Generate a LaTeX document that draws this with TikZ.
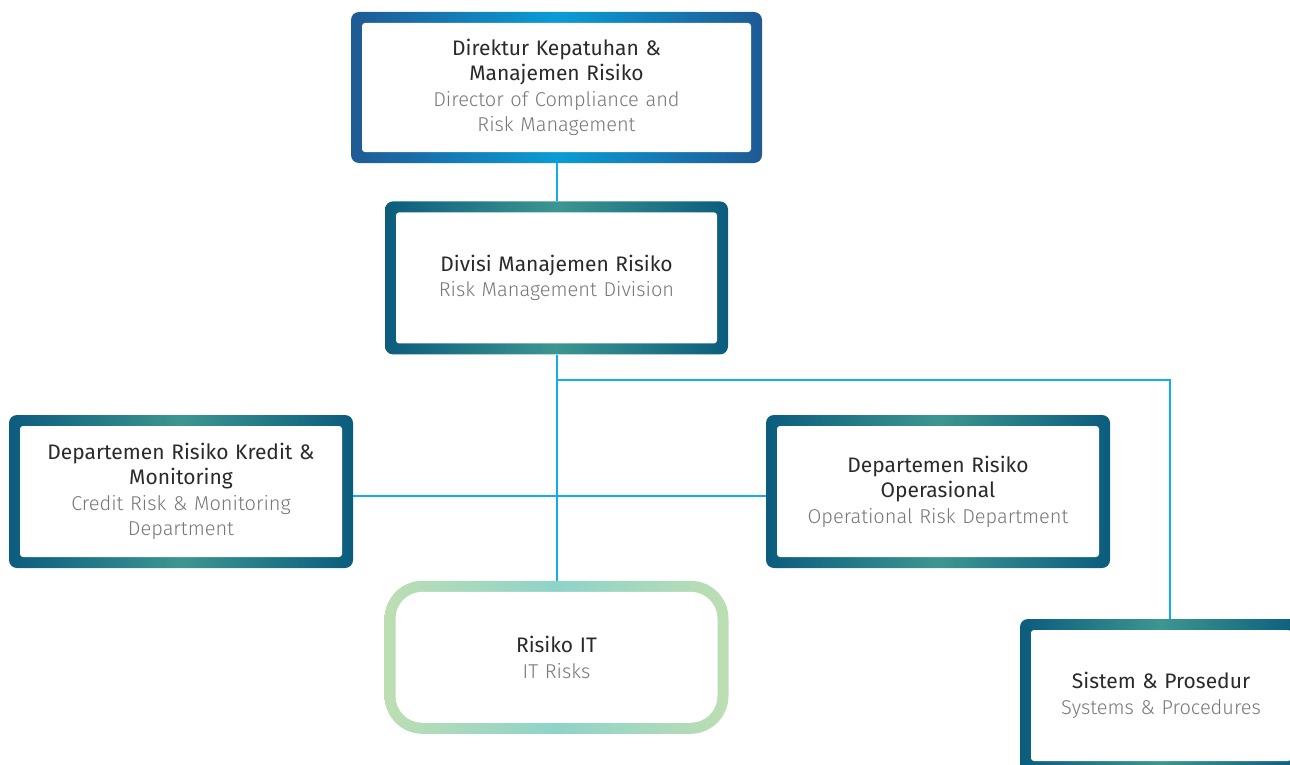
\documentclass[tikz,border=0pt]{standalone}
\usepackage{fontspec}
\setmainfont{Fira Sans}
\newfontfamily\titlefont{Fira Sans}
\newfontfamily\lightfont{Fira Sans Light}
\usepackage{xcolor}
\usetikzlibrary{positioning}

\definecolor{dirdark}{HTML}{1F5A94}
\definecolor{dirlight}{HTML}{0A9CD6}
\definecolor{deptdark}{HTML}{0B5C7E}
\definecolor{deptlight}{HTML}{3D9690}
\definecolor{itedge}{HTML}{BDDEB3}
\definecolor{itmid}{HTML}{8ED3C9}
\definecolor{linkblue}{HTML}{12ADEB}
\definecolor{titletext}{HTML}{2A2A2A}
\definecolor{subtext}{HTML}{777777}

\newcommand{\boxtitle}[1]{{\titlefont\fontsize{21}{25.5}\selectfont\color{titletext}#1}}

\begin{document}
\begin{tikzpicture}[
      x=1pt, y=-1pt,
      unitbox/.style={rectangle, rounded corners=8pt, inner sep=0pt,
        minimum width=344pt, minimum height=153pt, text width=320pt, align=center,
        font=\lightfont\fontsize{20}{25.5}\selectfont, text=subtext,
        left color=deptdark, right color=deptdark, middle color=deptlight,
        path picture={\fill[white, rounded corners=3pt]
          ([shift={(11pt,11pt)}]path picture bounding box.south west) rectangle
          ([shift={(-11pt,-11pt)}]path picture bounding box.north east);}},
      headbox/.style={unitbox, minimum width=411pt, minimum height=151pt,
        left color=dirdark, right color=dirdark, middle color=dirlight},
      softbox/.style={unitbox, rounded corners=38pt,
        left color=itedge, right color=itedge, middle color=itmid,
        path picture={\fill[white, rounded corners=27pt]
          ([shift={(11pt,11pt)}]path picture bounding box.south west) rectangle
          ([shift={(-11pt,-11pt)}]path picture bounding box.north east);}},
      link/.style={draw=linkblue, line width=2pt}
    ]
      \useasboundingbox (0,0) rectangle (1290,765);
      \clip (0,0) rectangle (1290,765);

      \node [headbox] (director) at (556.5,87.5)
        {\boxtitle{Direktur Kepatuhan \&\\ Manajemen Risiko}\\
         Director of Compliance and\\ Risk Management};
      \node [unitbox, minimum width=343pt, below=38pt of director] (division)
        {\boxtitle{Divisi Manajemen Risiko}\\ Risk Management Division};
      \node [unitbox] (credit) at (181,491.5)
        {\boxtitle{Departemen Risiko Kredit \&\\ Monitoring}\\
         Credit Risk \& Monitoring\\ Department};
      \node [unitbox] (operational) at (938,491.5)
        {\boxtitle{Departemen Risiko\\ Operasional}\\
         Operational Risk Department};
      \node [softbox, below=226pt of division] (itrisk)
        {\boxtitle{Risiko IT}\\ IT Risks};
      \node [unitbox, minimum width=282pt, text width=260pt] (sistem) at (1161,695.5)
        {\boxtitle{Sistem \& Prosedur}\\ Systems \& Procedures};

      \draw [link] (division.north |- director.south) -- (division.north);
      \draw [link] (division) -- (itrisk);
      \draw [link] ([yshift=-4pt]credit.east) -- ([yshift=-4pt]operational.west);
      \draw [link] ([yshift=-25pt]division.south) -| ([xshift=9pt]sistem.north);
    \end{tikzpicture}
\end{document}
